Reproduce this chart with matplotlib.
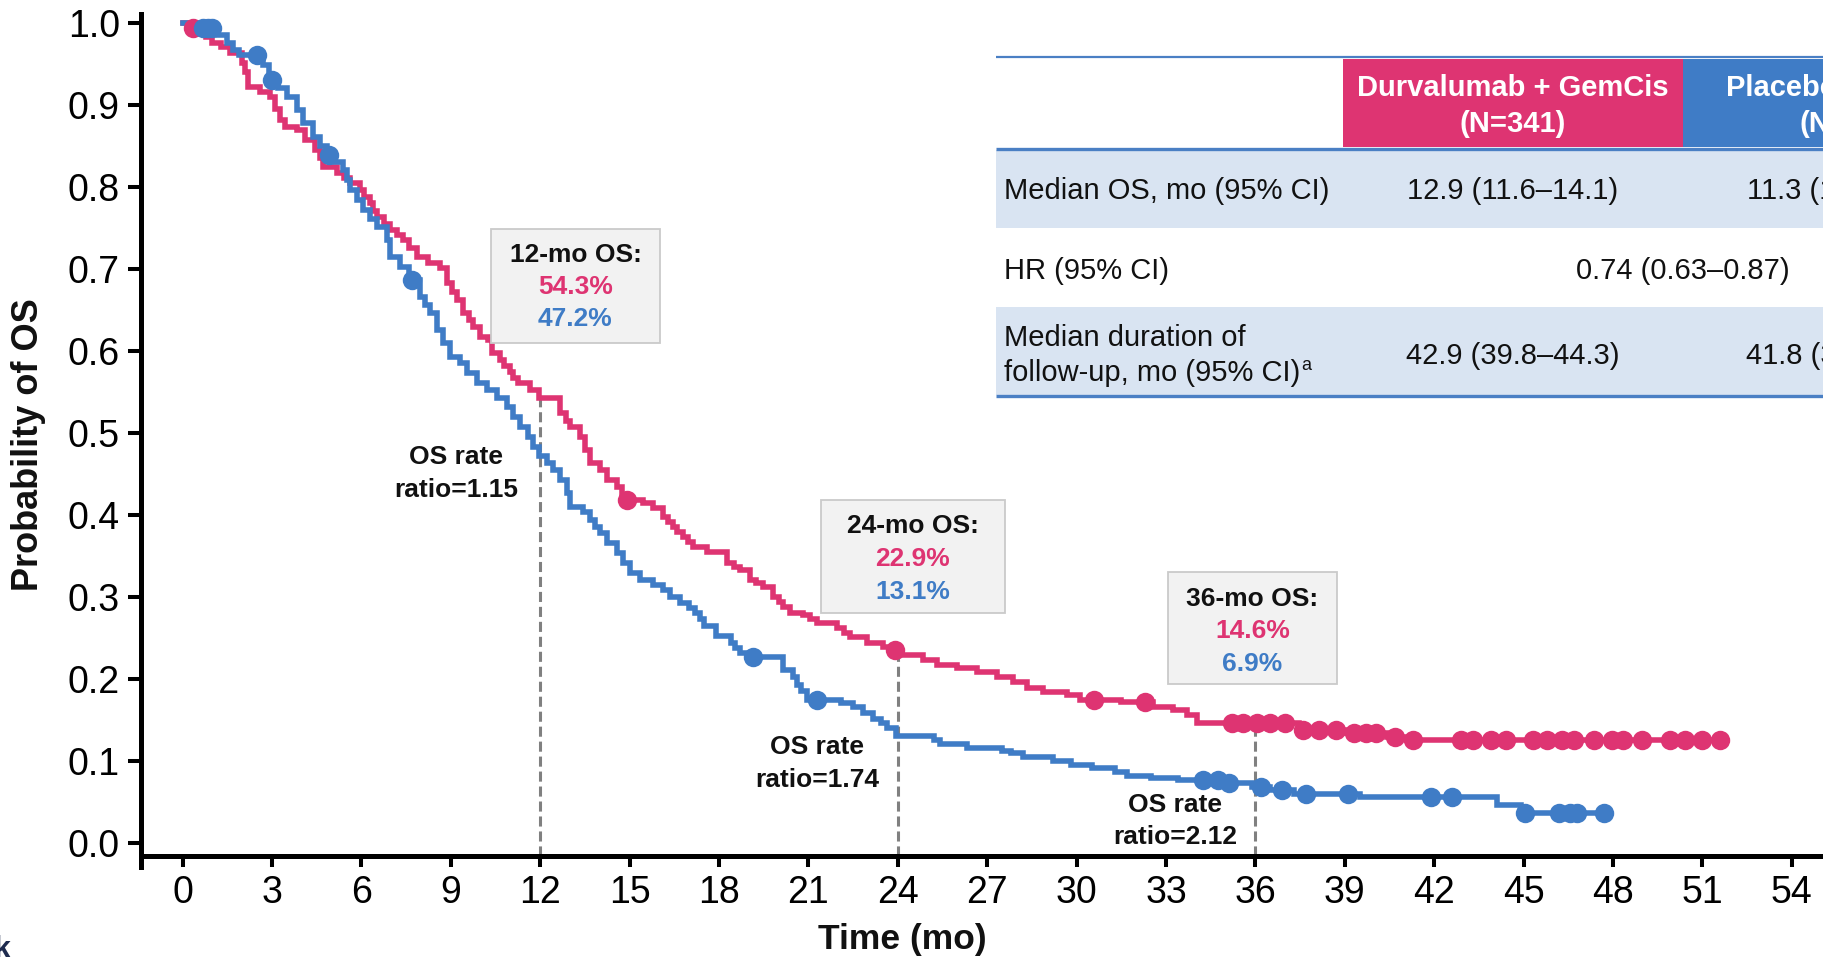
import matplotlib
matplotlib.use("Agg")
import matplotlib.pyplot as plt
from matplotlib.patches import Rectangle
import numpy as np

plt.rcParams['font.family'] = ['Liberation Sans', 'DejaVu Sans']

W, H, DPI = 1824, 957, 100
PINK = '#DE3472'
BLUE = '#3F7CC6'
TXT = '#111111'

# ---- Kaplan-Meier data: step times (months) and survival after each step ----
durva_t = [0.0, 0.2, 0.55, 0.8, 1.0, 1.3, 1.59, 1.99, 2.1, 2.2, 2.6, 2.93, 3.1, 3.27,
           3.44, 3.84, 4.11, 4.44, 4.6, 4.71, 5.18, 5.4, 5.62, 5.95, 6.1, 6.29, 6.4,
           6.52, 6.75, 6.96, 7.2, 7.4, 7.6, 7.87, 8.23, 8.64, 8.87, 9.05, 9.21, 9.41,
           9.6, 9.75, 9.98, 10.25, 10.38, 10.65, 10.8, 10.99, 11.1, 11.26, 11.66, 11.95,
           12.67, 12.85, 13.0, 13.34, 13.5, 13.68, 14.01, 14.24, 14.58, 14.75, 14.88,
           15.45, 15.79, 16.12, 16.3, 16.46, 16.6, 16.79, 16.95, 17.13, 17.6, 18.27,
           18.5, 18.71, 19.04, 19.25, 19.48, 19.81, 20.0, 20.15, 20.38, 20.82, 21.05,
           21.29, 21.96, 22.2, 22.4, 22.97, 23.5, 23.85, 24.0, 24.85, 25.32, 25.99,
           26.66, 27.33, 27.87, 28.34, 28.88, 29.68, 30.12, 31.5, 32.57, 33.24, 33.71,
           34.04, 37.45, 39.0, 40.4, 41.1]
durva_s = [1.0, 0.994, 0.988, 0.982, 0.975, 0.970, 0.963, 0.951, 0.940, 0.922, 0.916,
           0.909, 0.895, 0.881, 0.873, 0.869, 0.857, 0.845, 0.835, 0.824, 0.817, 0.811,
           0.805, 0.796, 0.788, 0.780, 0.771, 0.763, 0.755, 0.747, 0.741, 0.735, 0.725,
           0.714, 0.707, 0.701, 0.683, 0.672, 0.662, 0.646, 0.638, 0.629, 0.617, 0.613,
           0.598, 0.589, 0.582, 0.574, 0.567, 0.561, 0.552, 0.543, 0.524, 0.515, 0.507,
           0.495, 0.479, 0.463, 0.455, 0.443, 0.434, 0.425, 0.418, 0.415, 0.409, 0.398,
           0.392, 0.385, 0.379, 0.373, 0.367, 0.361, 0.355, 0.342, 0.337, 0.333, 0.321,
           0.317, 0.312, 0.300, 0.294, 0.288, 0.281, 0.278, 0.273, 0.268, 0.262, 0.256,
           0.251, 0.244, 0.239, 0.236, 0.229, 0.223, 0.217, 0.214, 0.209, 0.203, 0.197,
           0.189, 0.184, 0.181, 0.175, 0.172, 0.166, 0.162, 0.156, 0.146, 0.138, 0.134,
           0.130, 0.126]
durva_cens = [0.35, 14.9, 23.9, 30.6, 32.3, 35.2, 35.6, 36.05, 36.5, 37.0, 37.6, 38.15,
              38.7, 39.3, 39.7, 40.05, 40.7, 41.3, 42.9, 43.3, 43.9, 44.4, 45.3, 45.8,
              46.3, 46.7, 47.35, 47.95, 48.35, 48.97, 49.9, 50.4, 51.0, 51.6]

pbo_t = [0.0, 0.4, 1.2, 1.49, 1.69, 1.9, 2.7, 2.9, 3.2, 3.5, 3.84, 4.05, 4.38, 4.6,
         4.85, 5.1, 5.39, 5.5, 5.62, 5.85, 6.06, 6.3, 6.52, 6.86, 6.96, 7.3, 7.6, 7.97,
         8.15, 8.3, 8.54, 8.74, 8.97, 9.31, 9.54, 9.88, 10.21, 10.55, 10.89, 11.09,
         11.32, 11.59, 11.76, 11.95, 12.23, 12.43, 12.67, 12.9, 13.0, 13.44, 13.67,
         13.85, 14.0, 14.24, 14.58, 14.78, 15.01, 15.35, 15.79, 16.12, 16.35, 16.7,
         17.0, 17.2, 17.35, 17.5, 17.9, 18.4, 18.55, 18.7, 18.95, 20.15, 20.48, 20.61,
         20.75, 20.95, 22.1, 22.5, 22.84, 23.17, 23.45, 23.64, 23.95, 25.2, 25.4,
         26.32, 27.5, 27.8, 28.2, 29.2, 29.8, 30.5, 31.3, 31.7, 32.5, 33.4, 35.0, 35.9,
         36.5, 37.3, 39.5, 44.1, 44.9]
pbo_s = [1.0, 0.993, 0.985, 0.975, 0.967, 0.961, 0.948, 0.930, 0.920, 0.909, 0.894,
         0.878, 0.861, 0.850, 0.839, 0.830, 0.820, 0.808, 0.796, 0.784, 0.772, 0.761,
         0.751, 0.735, 0.714, 0.702, 0.686, 0.666, 0.656, 0.646, 0.626, 0.610, 0.592,
         0.585, 0.573, 0.561, 0.552, 0.543, 0.532, 0.520, 0.507, 0.495, 0.483, 0.472,
         0.463, 0.455, 0.443, 0.427, 0.410, 0.404, 0.394, 0.386, 0.378, 0.366, 0.354,
         0.342, 0.329, 0.321, 0.315, 0.309, 0.300, 0.293, 0.287, 0.281, 0.273, 0.265,
         0.252, 0.244, 0.238, 0.232, 0.227, 0.211, 0.203, 0.193, 0.185, 0.175, 0.171,
         0.166, 0.159, 0.152, 0.147, 0.141, 0.131, 0.126, 0.121, 0.116, 0.113, 0.110,
         0.105, 0.100, 0.096, 0.092, 0.087, 0.082, 0.079, 0.077, 0.073, 0.069, 0.065,
         0.060, 0.057, 0.047, 0.037]
pbo_cens = [0.7, 0.85, 1.0, 2.5, 3.0, 4.9, 7.7, 19.15, 21.3, 34.25, 34.75, 35.1, 36.2,
            36.9, 37.7, 39.1, 41.9, 42.6, 45.05, 46.2, 46.55, 46.8, 47.7]

# landmark OS rates (%)
landmark_months = [12, 24, 36]
landmark_durva = [54.3, 22.9, 14.6]
landmark_pbo = [47.2, 13.1, 6.9]
rate_ratios = ['1.15', '1.74', '2.12']

x_ticks = list(range(0, 55, 3))
y_ticks = [0.0, 0.1, 0.2, 0.3, 0.4, 0.5, 0.6, 0.7, 0.8, 0.9, 1.0]

# summary table
table_cols = ['Durvalumab + GemCis\n(N=341)', 'Placebo + GemCis\n(N=344)']
median_os = ['12.9 (11.6\u201314.1)', '11.3 (10.1\u201312.5)']
hazard_ratio = '0.74 (0.63\u20130.87)'
median_fu = ['42.9 (39.8\u201344.3)', '41.8 (38.6\u201344.1)']

fig = plt.figure(figsize=(W / DPI, H / DPI), dpi=DPI)
ax = fig.add_axes([141 / W, (H - 856) / H, (W - 141) / W, (856 - 14) / H])
YMIN, YMAX = -0.0155, 1.0106
ax.set_xlim(-1.396, 55.08)
ax.set_ylim(YMIN, YMAX)


def step_value(times, surv, t):
    i = np.searchsorted(np.asarray(times), t, side='right') - 1
    return surv[i]


for times, surv, cens, col in [(durva_t, durva_s, durva_cens, PINK),
                               (pbo_t, pbo_s, pbo_cens, BLUE)]:
    tt = list(times) + [cens[-1]]
    ss = list(surv) + [surv[-1]]
    ax.plot(tt, ss, drawstyle='steps-post', color=col, lw=4.0, zorder=3,
            solid_joinstyle='miter')
    cy = [step_value(times, surv, c) for c in cens]
    ax.plot(cens, cy, 'o', ms=14, color=col, mec='none', zorder=4)

# dashed landmark lines
for m, v in zip(landmark_months, landmark_durva):
    ax.plot([m, m], [YMIN, v / 100], color='#808080', lw=2.2,
            ls=(0, (3.3, 1.6)), zorder=2, clip_on=False)

for side in ['top', 'right']:
    ax.spines[side].set_visible(False)
for side in ['left', 'bottom']:
    ax.spines[side].set_linewidth(3.6)
    ax.spines[side].set_color('black')
ax.spines['left'].set_bounds(-0.0285, YMAX)

ax.set_xticks(x_ticks)
ax.set_xticklabels([str(v) for v in x_ticks])
ax.set_yticks(y_ticks)
ax.set_yticklabels([f'{v:.1f}' for v in y_ticks])
ax.tick_params(axis='y', direction='out', length=9.4, width=2.9, pad=5.8,
               labelsize=27, colors='black')
ax.tick_params(axis='x', direction='out', length=8, width=2.9, pad=5.8,
               labelsize=27, colors='black')
ax.set_facecolor('none')

# overlay in pixel coordinates for labels, boxes and table
ov = fig.add_axes([0, 0, 1, 1])
ov.set_xlim(0, W)
ov.set_ylim(H, 0)
ov.axis('off')

ov.text(29, 445, 'Probability of OS', rotation=90, ha='center', va='center',
        fontsize=26, fontweight='bold', color=TXT)
ov.text(902, 939, 'Time (mo)', ha='center', va='center', fontsize=25.5,
        fontweight='bold', color=TXT)

# landmark boxes
boxes = [(491, 229, 169, 114, [255, 287, 319]),
         (821, 500, 184, 113, [526, 559, 592]),
         (1168, 572, 169, 112, [599, 631, 664])]
for (bx, by, bw, bh, ly), m, d, p in zip(boxes, landmark_months,
                                         landmark_durva, landmark_pbo):
    ov.add_patch(Rectangle((bx, by), bw, bh, fc='#F2F2F2', ec='#CACACA', lw=1.3))
    cx = bx + bw / 2
    ov.text(cx, ly[0], f'{m}-mo OS:', ha='center', va='center', fontsize=19,
            fontweight='bold', color=TXT)
    ov.text(cx, ly[1], f'{d:.1f}%', ha='center', va='center', fontsize=19,
            fontweight='bold', color=PINK)
    ov.text(cx, ly[2], f'{p:.1f}%', ha='center', va='center', fontsize=19,
            fontweight='bold', color=BLUE)

# OS rate ratio labels
ratio_pos = [(456, 457, 490), (817, 747, 780), (1175, 805, 837)]
for (cx, y1, y2), r in zip(ratio_pos, rate_ratios):
    ov.text(cx, y1, 'OS rate', ha='center', va='center', fontsize=19,
            fontweight='bold', color=TXT)
    ov.text(cx, y2, f'ratio={r}', ha='center', va='center', fontsize=19,
            fontweight='bold', color=TXT)

# summary table
TBL_LINE = '#4A7FC4'
ROW_BG = '#D9E4F2'
left, right = 996, W + 400
col1, col2 = (1343, 1683), (1683, 2023)
ov.add_patch(Rectangle((left, 150), right - left, 78, fc=ROW_BG, ec='none'))
ov.add_patch(Rectangle((left, 307), right - left, 88, fc=ROW_BG, ec='none'))
ov.add_patch(Rectangle((col1[0], 59), col1[1] - col1[0], 88, fc=PINK, ec='none'))
ov.add_patch(Rectangle((col2[0], 59), col2[1] - col2[0], 88, fc=BLUE, ec='none'))
ov.plot([left, right], [57, 57], color=TBL_LINE, lw=1.6, solid_capstyle='butt')
ov.plot([left, right], [148.5, 148.5], color=TBL_LINE, lw=2.4, solid_capstyle='butt')
ov.plot([left, right], [396, 396], color=TBL_LINE, lw=2.4, solid_capstyle='butt')

for (c0, c1), head in zip([col1, col2], table_cols):
    cx = (c0 + c1) / 2
    l1, l2 = head.split('\n')
    ov.text(cx, 88, l1, ha='center', va='center', fontsize=21,
            fontweight='bold', color='white')
    ov.text(cx, 124, l2, ha='center', va='center', fontsize=21,
            fontweight='bold', color='white')

ov.text(1004, 191, 'Median OS, mo (95% CI)', ha='left', va='center',
        fontsize=21, color=TXT)
ov.text(1004, 271, 'HR (95% CI)', ha='left', va='center', fontsize=21, color=TXT)
ov.text(1004, 338, 'Median duration of', ha='left', va='center', fontsize=21,
        color=TXT)
fu = ov.text(1004, 373, 'follow-up, mo (95% CI)', ha='left', va='center',
             fontsize=21, color=TXT)

for (c0, c1), v1, v3 in zip([col1, col2], median_os, median_fu):
    cx = (c0 + c1) / 2
    ov.text(cx, 191, v1, ha='center', va='center', fontsize=21, color=TXT)
    ov.text(cx, 356, v3, ha='center', va='center', fontsize=21, color=TXT)
ov.text(col1[1], 271, hazard_ratio, ha='center', va='center', fontsize=21,
        color=TXT)

fig.canvas.draw()
bb = fu.get_window_extent()
ov.text(bb.x1 + 1, 366, 'a', ha='left', va='center', fontsize=13, color=TXT)

ov.text(-6, 958, 'k', ha='left', va='baseline', fontsize=22, fontweight='bold',
        color='#1E2B4F')

fig.savefig('out.png', dpi=DPI, facecolor='white')
